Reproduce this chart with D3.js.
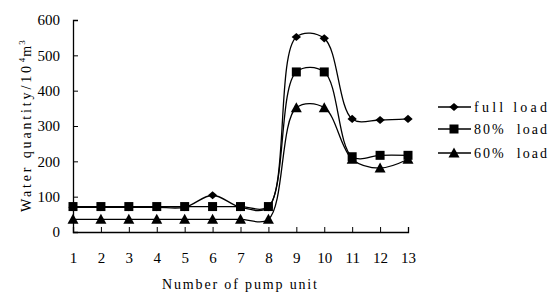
<!DOCTYPE html>
<html>
<head>
<meta charset="utf-8">
<script src="https://cdn.jsdelivr.net/npm/d3@7"></script>
<style>
  body { margin: 0; background: #fff; }
  svg { display: block; }
  text.lbl { font-family: "Liberation Serif", "DejaVu Serif", serif; fill: #000; }
</style>
</head>
<body>
<svg width="551" height="294"></svg>
<script>
// данные
const pumpUnits = [1, 2, 3, 4, 5, 6, 7, 8, 9, 10, 11, 12, 13];
const fullLoad = [70, 70, 70, 70, 70, 104, 70, 70, 552, 548, 320, 317, 320];
const load80 = [72, 72, 72, 72, 72, 72, 72, 72, 453, 453, 213, 217, 217];
const load60 = [36, 36, 36, 36, 36, 36, 36, 36, 352, 352, 206, 181, 206];
const yTicks = [0, 100, 200, 300, 400, 500, 600];
const seriesNames = ["full load", "80%  load", "60%  load"];
const markerTypes = ["diamond", "square", "triangle"];

const svg = d3.select("svg");

const area = { left: 73, right: 408, top: 20, bottom: 232 };

const scX = d3.scaleLinear().domain([1, 13]).range([area.left, area.right]);
const scY = d3.scaleLinear().domain([0, 600]).range([area.bottom, area.top]);

// оси, засечки внутрь
const axX = svg.append("g")
    .attr("transform", `translate(0, ${area.bottom})`)
    .call(d3.axisBottom(scX).tickValues(pumpUnits).tickFormat(d3.format("d")).tickSize(-5).tickPadding(20));
axX.select(".domain").attr("stroke", "#000").attr("stroke-width", 1.3);
axX.selectAll(".tick line").attr("stroke", "#000");
axX.selectAll("text").style("font-family", "Liberation Serif, serif").attr("font-size", 15);

const axY = svg.append("g")
    .attr("transform", `translate(${area.left}, 0)`)
    .call(d3.axisLeft(scY).tickValues(yTicks).tickSize(-5).tickPadding(13));
axY.select(".domain").attr("stroke", "#000").attr("stroke-width", 1.3);
axY.selectAll(".tick line").attr("stroke", "#000");
axY.selectAll("text").style("font-family", "Liberation Serif, serif").attr("font-size", 15);

// подписи осей (моноширинный вид через textLength)
svg.append("text")
    .attr("class", "lbl")
    .attr("x", 162)
    .attr("y", 289)
    .attr("font-size", 14)
    .attr("textLength", 155)
    .attr("lengthAdjust", "spacing")
    .text("Number of pump unit");

const yl = svg.append("text")
    .attr("class", "lbl")
    .attr("transform", `translate(31, 212) rotate(-90)`)
    .attr("font-size", 14);
yl.append("tspan").attr("textLength", 146).attr("lengthAdjust", "spacing").text("Water quantity/10");
yl.append("tspan").attr("dy", -6).attr("dx", 1).attr("font-size", 9).text("4");
yl.append("tspan").attr("dy", 6).attr("dx", 1).text("m");
yl.append("tspan").attr("dy", -6).attr("dx", 1).attr("font-size", 9).text("3");

// маркеры
function drawMarker(g, type, x, y) {
    if (type === "diamond") {
        g.append("path").attr("d", d3.symbol(d3.symbolDiamond2, 42)()).attr("transform", `translate(${x},${y}) scale(1.15,1)`);
    } else if (type === "square") {
        g.append("rect").attr("x", x - 4.5).attr("y", y - 4.5).attr("width", 9).attr("height", 9);
    } else {
        g.append("path").attr("d", `M${x},${y - 5.5}L${x + 5.5},${y + 4.5}L${x - 5.5},${y + 4.5}Z`);
    }
}

const line = d3.line()
    .x((d, i) => scX(pumpUnits[i]))
    .y(d => scY(d))
    .curve(d3.curveCatmullRom.alpha(0.5));

[fullLoad, load80, load60].forEach((vals, k) => {
    svg.append("path")
        .attr("d", line(vals))
        .attr("fill", "none")
        .attr("stroke", "#000")
        .attr("stroke-width", 1.3);
    const g = svg.append("g").attr("fill", "#000");
    vals.forEach((v, i) => drawMarker(g, markerTypes[k], scX(pumpUnits[i]), scY(v)));
});

// легенда
const legY = [107, 129, 153];
seriesNames.forEach((name, k) => {
    const g = svg.append("g").attr("fill", "#000");
    g.append("line")
        .attr("x1", 438).attr("x2", 471)
        .attr("y1", legY[k]).attr("y2", legY[k])
        .attr("stroke", "#000").attr("stroke-width", 1.3);
    drawMarker(g, markerTypes[k], 454, legY[k]);
    svg.append("text")
        .attr("class", "lbl")
        .attr("x", 474)
        .attr("y", legY[k] + 5)
        .attr("font-size", 14)
        .attr("textLength", 73)
        .attr("lengthAdjust", "spacing")
        .attr("xml:space", "preserve")
        .style("white-space", "pre")
        .text(name);
});
</script>
</body>
</html>
